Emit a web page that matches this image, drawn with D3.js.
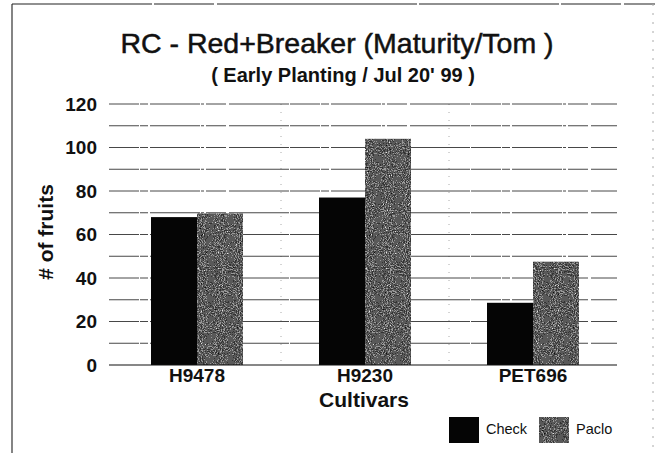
<!DOCTYPE html>
<html>
<head>
<meta charset="utf-8">
<script src="https://cdn.jsdelivr.net/npm/d3@7"></script>
<style>
  html, body { margin: 0; padding: 0; background: #fff; }
  svg { display: block; font-family: "Liberation Sans", Arial, sans-serif; }
</style>
</head>
<body>
<div id="chart"></div>
<script>
// values
var cultivars = ["H9478", "H9230", "PET696"];
var seriesNames = ["Check", "Paclo"];
var checkValues = [68, 77, 28.6];
var pacloValues = [69.7, 104, 47.5];
var yTicks = [0, 20, 40, 60, 80, 100, 120];
var gridValues = [10, 20, 30, 40, 50, 60, 70, 80, 90, 100, 110, 120];

document.addEventListener("DOMContentLoaded", function() {
    drawChart(document.querySelector("#chart"));
});

function drawChart(wrapper) {
    var width = 660, height = 453;
    var plot = { left: 113, right: 617, top: 104, bottom: 365 };

    var svg = d3.select(wrapper).append("svg")
        .attr("width", width)
        .attr("height", height);

    // speckled grey fill used for the Paclo bars
    var defs = svg.append("defs");
    var filter = defs.append("filter").attr("id", "speckle")
        .attr("color-interpolation-filters", "sRGB")
        .attr("x", 0).attr("y", 0).attr("width", "100%").attr("height", "100%");
    filter.append("feTurbulence").attr("type", "fractalNoise")
        .attr("baseFrequency", 0.95).attr("numOctaves", 2).attr("seed", 4).attr("result", "noise");
    filter.append("feColorMatrix").attr("in", "noise").attr("type", "matrix")
        .attr("values", "1 0 0 0 0  1 0 0 0 0  1 0 0 0 0  0 0 0 0 1").attr("result", "grey");
    var ct = filter.append("feComponentTransfer").attr("in", "grey").attr("result", "steps");
    ["feFuncR", "feFuncG", "feFuncB"].forEach(function(f) {
        ct.append(f).attr("type", "discrete").attr("tableValues", "0.05 0.2 0.35 0.6 0.9");
    });
    filter.append("feComposite").attr("in", "steps").attr("in2", "SourceGraphic").attr("operator", "in");

    // scanned page frame
    svg.append("line").attr("x1", 12).attr("x2", 12).attr("y1", 4).attr("y2", height)
        .attr("stroke", "#333").attr("stroke-width", 1.2);
    svg.append("line").attr("x1", 12).attr("x2", 655).attr("y1", 4).attr("y2", 4)
        .attr("stroke", "#222").attr("stroke-width", 1.2).attr("stroke-dasharray", "140,2,60,3,200,2");
    svg.append("line").attr("x1", 653).attr("x2", 653).attr("y1", 4).attr("y2", height)
        .attr("stroke", "#aaa").attr("stroke-width", 1).attr("stroke-dasharray", "2,7");

    var x = d3.scaleBand()
        .domain(cultivars)
        .range([plot.left, plot.right])
        .paddingInner(76 / 168)
        .paddingOuter(38 / 168);

    var xInner = d3.scaleBand()
        .domain(seriesNames)
        .range([0, x.bandwidth()]);

    var y = d3.scaleLinear()
        .domain([0, 120])
        .range([plot.bottom, plot.top]);

    // category separators
    var step = x.step();
    svg.append("g").selectAll("line")
        .data(cultivars.slice(1))
        .enter().append("line")
        .attr("x1", function(d) { return x(d) - (step - x.bandwidth()) / 2; })
        .attr("x2", function(d) { return x(d) - (step - x.bandwidth()) / 2; })
        .attr("y1", plot.top)
        .attr("y2", plot.bottom)
        .attr("stroke", "#aaa")
        .attr("stroke-dasharray", "1,7");

    // horizontal grid lines
    svg.append("g").selectAll("line")
        .data(gridValues)
        .enter().append("line")
        .attr("x1", 109)
        .attr("x2", plot.right)
        .attr("y1", function(d) { return y(d); })
        .attr("y2", function(d) { return y(d); })
        .attr("stroke", "#333")
        .attr("stroke-width", 0.9)
        .attr("stroke-dasharray", "30,1,8,2,50,1,3,2,20,3,60,1");

    // y axis labels
    var yAxis = d3.axisLeft(y).tickValues(yTicks).tickSize(0).tickPadding(12);
    var yg = svg.append("g")
        .attr("transform", "translate(109,0)")
        .call(yAxis);
    yg.select(".domain").remove();
    yg.selectAll("text")
        .attr("font-family", "Liberation Sans, Arial, sans-serif")
        .attr("font-size", 19)
        .attr("font-weight", "bold")
        .attr("fill", "#111");

    // bars
    var groups = svg.append("g").selectAll("g")
        .data(cultivars)
        .enter().append("g")
        .attr("transform", function(d) { return "translate(" + x(d) + ",0)"; });

    groups.append("rect")
        .attr("x", xInner("Check"))
        .attr("width", xInner.bandwidth())
        .attr("y", function(d, i) { return y(checkValues[i]); })
        .attr("height", function(d, i) { return y(0) - y(checkValues[i]); })
        .attr("fill", "#050505");

    groups.append("rect")
        .attr("x", xInner("Paclo"))
        .attr("width", xInner.bandwidth())
        .attr("y", function(d, i) { return y(pacloValues[i]); })
        .attr("height", function(d, i) { return y(0) - y(pacloValues[i]); })
        .attr("fill", "#555")
        .attr("filter", "url(#speckle)");

    // baseline
    svg.append("line")
        .attr("x1", 109).attr("x2", plot.right)
        .attr("y1", y(0)).attr("y2", y(0))
        .attr("stroke", "#111").attr("stroke-width", 1.2);

    // x axis labels
    var xAxis = d3.axisBottom(x).tickSize(0).tickPadding(4);
    var xg = svg.append("g")
        .attr("transform", "translate(0," + plot.bottom + ")")
        .call(xAxis);
    xg.select(".domain").remove();
    xg.selectAll("text")
        .attr("font-family", "Liberation Sans, Arial, sans-serif")
        .attr("font-size", 19)
        .attr("font-weight", "bold")
        .attr("fill", "#111");

    // titles
    svg.append("text")
        .attr("x", 337).attr("y", 53)
        .attr("text-anchor", "middle")
        .attr("font-size", 28.5)
        .attr("fill", "#111")
        .attr("stroke", "#111")
        .attr("stroke-width", 0.5)
        .text("RC - Red+Breaker (Maturity/Tom )");

    svg.append("text")
        .attr("x", 343).attr("y", 82)
        .attr("text-anchor", "middle")
        .attr("font-size", 20)
        .attr("font-weight", "bold")
        .attr("fill", "#111")
        .text("( Early Planting / Jul 20' 99 )");

    svg.append("text")
        .attr("x", 364).attr("y", 407)
        .attr("text-anchor", "middle")
        .attr("font-size", 21)
        .attr("font-weight", "bold")
        .attr("fill", "#111")
        .text("Cultivars");

    svg.append("text")
        .attr("transform", "translate(53,232) rotate(-90)")
        .attr("text-anchor", "middle")
        .attr("font-size", 21)
        .attr("font-weight", "bold")
        .attr("fill", "#111")
        .text("# of fruits");

    // legend
    var legend = svg.append("g");
    var legendX = [449, 539];
    seriesNames.forEach(function(name, i) {
        legend.append("rect")
            .attr("x", legendX[i]).attr("y", 417)
            .attr("width", 30).attr("height", 26)
            .attr("fill", i === 0 ? "#050505" : "#555")
            .attr("filter", i === 0 ? null : "url(#speckle)");
        legend.append("text")
            .attr("x", legendX[i] + 37).attr("y", 434)
            .attr("font-size", 14.5)
            .attr("fill", "#111")
            .text(name);
    });
}
</script>
</body>
</html>
